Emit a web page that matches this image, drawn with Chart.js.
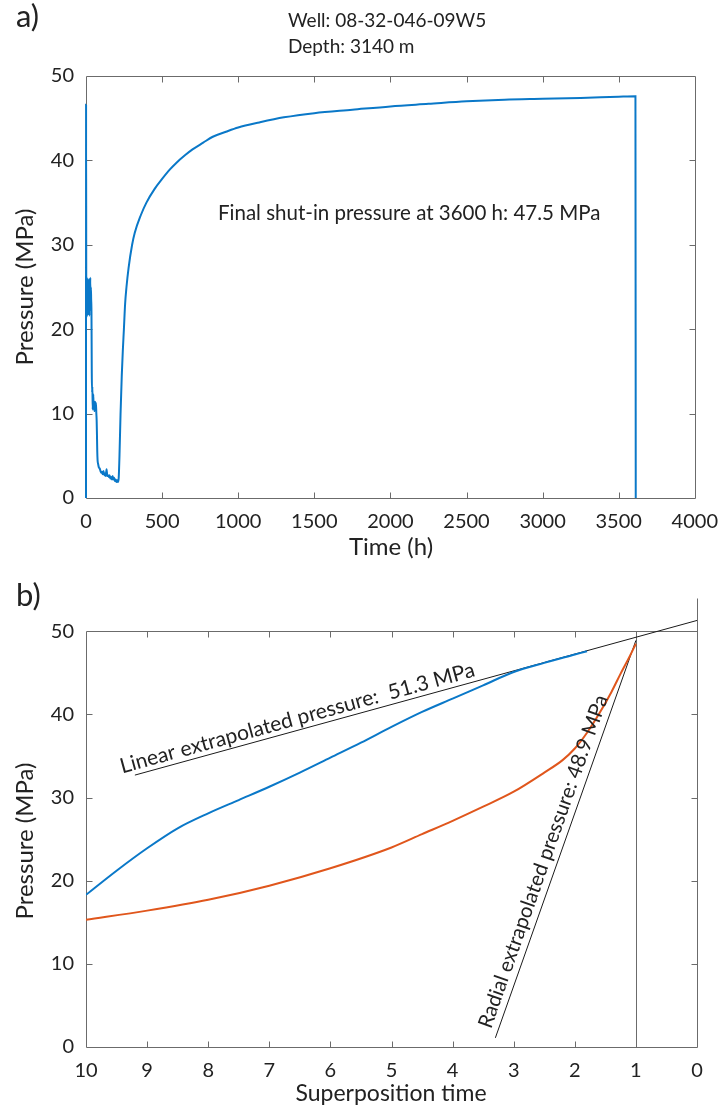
<!DOCTYPE html>
<html>
<head>
<meta charset="utf-8">
<script src="https://cdn.jsdelivr.net/npm/chart.js@4.4.1/dist/chart.umd.min.js"></script>
<style>
  body { margin: 0; background: #fff; }
  .panel { position: absolute; left: 0; width: 722px; }
  #panelA { top: 0; height: 560px; }
  #panelB { top: 560px; height: 550px; }
</style>
</head>
<body>
<div class="panel" id="panelA"><canvas id="chartA" width="722" height="560"></canvas></div>
<div class="panel" id="panelB"><canvas id="chartB" width="722" height="550"></canvas></div>
<script>
// a) pressure record
const timeH = [0, 0.5, 2, 4, 6, 8, 10, 12, 14, 16, 18, 20, 22, 24, 26, 28, 30, 32, 34, 36,
  38, 40, 42, 44, 46, 48, 50, 53, 56, 59, 62, 65, 68, 70, 72, 74, 76, 80, 85, 90,
  95, 100, 105, 110, 115, 120, 125, 130, 135, 140, 145, 150, 155, 160, 165, 170, 175, 180,
  185, 190, 195, 200, 205, 211, 215, 220, 227, 235, 242, 249, 257, 266, 280, 303,
  320, 360, 397, 450, 500, 550, 593, 650, 700, 770, 833, 920, 1000, 1139, 1300, 1500,
  1750, 2000, 2250, 2500, 2750, 3000, 3250, 3500, 3610, 3612];
const pressureA = [0, 46.6, 22.5, 25.8, 21.5, 24.9, 22.2, 26.0, 21.8, 25.2, 23.0, 25.9, 21.6, 24.4, 22.8, 26.1, 22.3, 25.0, 23.5, 21.9,
  14.8, 12.5, 13.2, 10.5, 11.4, 12.3, 10.6, 11.0, 10.3, 11.4, 10.8, 11.3, 10.0, 9.2, 7.5, 5.5, 4.5, 4.0, 3.6, 3.5,
  3.2, 3.0, 3.1, 2.8, 3.2, 2.7, 2.9, 2.6, 3.4, 2.6, 2.7, 2.5, 2.7, 2.3, 2.5, 2.2, 2.6, 2.2,
  2.4, 2.0, 2.2, 1.9, 2.1, 1.9, 2.4, 5.0, 10.0, 14.5, 17.5, 20.0, 23.0, 25.0, 27.3, 30.0,
  31.4, 33.5, 35.0, 36.6, 37.8, 38.9, 39.7, 40.6, 41.3, 42.1, 42.8, 43.4, 43.9, 44.5, 45.1, 45.6,
  46.0, 46.4, 46.7, 47.0, 47.2, 47.3, 47.4, 47.55, 47.6, 0];
const timeTicks = [0, 500, 1000, 1500, 2000, 2500, 3000, 3500, 4000];
const pressureTicks = [0, 10, 20, 30, 40, 50];

// b) superposition plot
const superTimeBlue = [10, 9.5, 9, 8.5, 8, 7.5, 7, 6.5, 6, 5.5, 5, 4.5, 4, 3.5, 3, 2.5, 2, 1.8];
const pressureBlue = [18.3, 21.2, 23.9, 26.3, 28.1, 29.7, 31.3, 33.0, 34.8, 36.6, 38.5, 40.3, 41.9, 43.5, 45.1, 46.2, 47.2, 47.6];
const superTimeOrange = [10, 9, 8, 7, 6, 5, 4.5, 4, 3.5, 3, 2.5, 2.2, 2, 1.8, 1.6, 1.4, 1.25, 1.1, 1.0];
const pressureOrange = [15.3, 16.4, 17.7, 19.4, 21.5, 24.0, 25.6, 27.2, 28.9, 30.7, 33.0, 34.5, 35.9, 37.8, 40.1, 42.7, 44.9, 47.0, 48.5];
const linearX = [9.2, 0];
const linearP = [32.7, 51.3];
const radialX = [3.3, 1];
const radialP = [1.1, 48.9];
const superTicks = [0, 1, 2, 3, 4, 5, 6, 7, 8, 9, 10];

const FONT = "Lato, 'Open Sans', sans-serif";
const TEXT = "#222";
const AXIS = "#6b6b6b";
const BLUE = "#0a78c8";
const ORANGE = "#e0561c";

function pts(xs, ys) {
  return xs.map((x, i) => ({ x: x, y: ys[i] }));
}

function px(v) {
  return Math.round(v) + 0.5;
}

// box with inward ticks, matlab style
const framePlugin = {
  id: "frame",
  beforeDatasetsDraw(chart, args, opts) {
    const { ctx, chartArea } = chart;
    const xs = chart.scales.x, ys = chart.scales.y;
    const left = px(chartArea.left), right = px(chartArea.right), bottom = px(chartArea.bottom);
    const boxTop = px(ys.getPixelForValue(opts.boxTop));
    const top = px(chartArea.top);
    const t = 6;
    ctx.save();
    ctx.strokeStyle = AXIS;
    ctx.lineWidth = 1;
    ctx.beginPath();
    ctx.moveTo(left, boxTop); ctx.lineTo(left, bottom); ctx.lineTo(right, bottom);
    ctx.lineTo(right, top);
    ctx.moveTo(left, boxTop); ctx.lineTo(right, boxTop);
    xs.ticks.forEach((tk) => {
      const x = px(xs.getPixelForValue(tk.value));
      if (Math.abs(x - left) < 2 || Math.abs(x - right) < 2) return;
      ctx.moveTo(x, bottom); ctx.lineTo(x, bottom - t);
      ctx.moveTo(x, boxTop); ctx.lineTo(x, boxTop + t);
    });
    ys.ticks.forEach((tk) => {
      const y = px(ys.getPixelForValue(tk.value));
      if (Math.abs(y - bottom) < 2 || Math.abs(y - boxTop) < 2) return;
      ctx.moveTo(left, y); ctx.lineTo(left + t, y);
      ctx.moveTo(right, y); ctx.lineTo(right - t, y);
    });
    if (opts.markX !== undefined) {
      const x = px(xs.getPixelForValue(opts.markX));
      ctx.moveTo(x, boxTop); ctx.lineTo(x, bottom);
    }
    ctx.stroke();
    ctx.restore();
  },
  afterDraw(chart, args, opts) {
    const { ctx } = chart;
    ctx.save();
    ctx.fillStyle = TEXT;
    ctx.textBaseline = "middle";
    (opts.labels || []).forEach((l) => {
      ctx.save();
      ctx.font = l.size + "px " + FONT;
      ctx.textAlign = l.align || "left";
      let x = l.x, y = l.y;
      if (l.along) {
        // put the text along a line, given in data units
        const xs = chart.scales.x, ys = chart.scales.y;
        const x0 = xs.getPixelForValue(l.along[0]), y0 = ys.getPixelForValue(l.along[1]);
        const x1 = xs.getPixelForValue(l.along[2]), y1 = ys.getPixelForValue(l.along[3]);
        const ang = Math.atan2(y1 - y0, x1 - x0);
        const f = l.from;
        x = x0 + (x1 - x0) * f + Math.sin(ang) * l.offset;
        y = y0 + (y1 - y0) * f - Math.cos(ang) * l.offset;
        ctx.translate(x, y);
        ctx.rotate(ang);
        ctx.textBaseline = "alphabetic";
        ctx.fillText(l.text, 0, 0);
      } else if (l.rotate) {
        ctx.translate(x, y);
        ctx.rotate(l.rotate);
        ctx.textAlign = "center";
        ctx.fillText(l.text, 0, 0);
      } else {
        ctx.fillText(l.text, x, y);
      }
      ctx.restore();
    });
    ctx.restore();
  },
};

function axisOpts(min, max, ticks, reverse, size) {
  return {
    type: "linear",
    min: min,
    max: max,
    reverse: reverse,
    grid: { display: false },
    border: { display: false },
    afterBuildTicks: (s) => {
      s.ticks = ticks.map((v) => ({ value: v }));
    },
    ticks: {
      color: TEXT,
      font: { family: FONT, size: 20 },
      padding: 4,
      maxRotation: 0,
      autoSkip: false,
      callback: (v) => String(v),
    },
    afterFit: size,
  };
}

// top chart
new Chart(document.getElementById("chartA").getContext("2d"), {
  type: "scatter",
  data: {
    datasets: [
      {
        data: pts(timeH, pressureA),
        showLine: true,
        borderColor: BLUE,
        borderWidth: 2,
        pointRadius: 0,
        tension: 0.4,
        cubicInterpolationMode: "monotone",
        clip: 3,
      },
    ],
  },
  options: {
    responsive: false,
    animation: false,
    layout: { padding: { top: 76, right: 25, left: 0, bottom: 0 } },
    plugins: {
      legend: { display: false },
      tooltip: { enabled: false },
      frame: {
        boxTop: 50,
        labels: [
          { text: "a)", x: 16, y: 17, size: 31 },
          { text: "Well: 08-32-046-09W5", x: 288, y: 21, size: 19 },
          { text: "Depth: 3140 m", x: 288, y: 47, size: 19 },
          { text: "Final shut-in pressure at 3600 h: 47.5 MPa", x: 218, y: 213, size: 20.5 },
          { text: "Time (h)", x: 391, y: 547, size: 24, align: "center" },
          { text: "Pressure (MPa)", x: 25, y: 287, size: 24, rotate: -Math.PI / 2 },
        ],
      },
    },
    scales: {
      x: axisOpts(0, 4000, timeTicks, false, (s) => { s.height = 62; }),
      y: axisOpts(0, 50, pressureTicks, false, (s) => { s.width = 86; }),
    },
  },
  plugins: [framePlugin],
});

// bottom chart
new Chart(document.getElementById("chartB").getContext("2d"), {
  type: "scatter",
  data: {
    datasets: [
      {
        data: pts(superTimeBlue, pressureBlue),
        showLine: true,
        borderColor: BLUE,
        borderWidth: 2,
        pointRadius: 0,
        tension: 0.4,
        cubicInterpolationMode: "monotone",
      },
      {
        data: pts(superTimeOrange, pressureOrange),
        showLine: true,
        borderColor: ORANGE,
        borderWidth: 2,
        pointRadius: 0,
        tension: 0.4,
        cubicInterpolationMode: "monotone",
      },
      {
        data: pts(linearX, linearP),
        showLine: true,
        borderColor: "#1a1a1a",
        borderWidth: 1,
        pointRadius: 0,
      },
      {
        data: pts(radialX, radialP),
        showLine: true,
        borderColor: "#1a1a1a",
        borderWidth: 1,
        pointRadius: 0,
      },
    ],
  },
  options: {
    responsive: false,
    animation: false,
    layout: { padding: { top: 38, right: 25, left: 0, bottom: 0 } },
    plugins: {
      legend: { display: false },
      tooltip: { enabled: false },
      frame: {
        boxTop: 50,
        markX: 1,
        labels: [
          { text: "b)", x: 16, y: 36, size: 31 },
          { text: "Superposition time", x: 391, y: 534, size: 23, align: "center" },
          { text: "Pressure (MPa)", x: 25, y: 281, size: 24, rotate: -Math.PI / 2 },
          { text: "Linear extrapolated pressure:  51.3 MPa", along: [9.2, 32.7, 0, 51.3], from: -0.02, offset: 5, size: 21 },
          { text: "Radial extrapolated pressure: 48.9 MPa", along: [3.3, 1.1, 1, 48.9], from: 0.015, offset: 7, size: 20.5 },
        ],
      },
    },
    scales: {
      x: axisOpts(0, 10, superTicks, true, (s) => { s.height = 63; }),
      y: axisOpts(0, 54, pressureTicks, false, (s) => { s.width = 86; }),
    },
  },
  plugins: [framePlugin],
});
</script>
</body>
</html>
